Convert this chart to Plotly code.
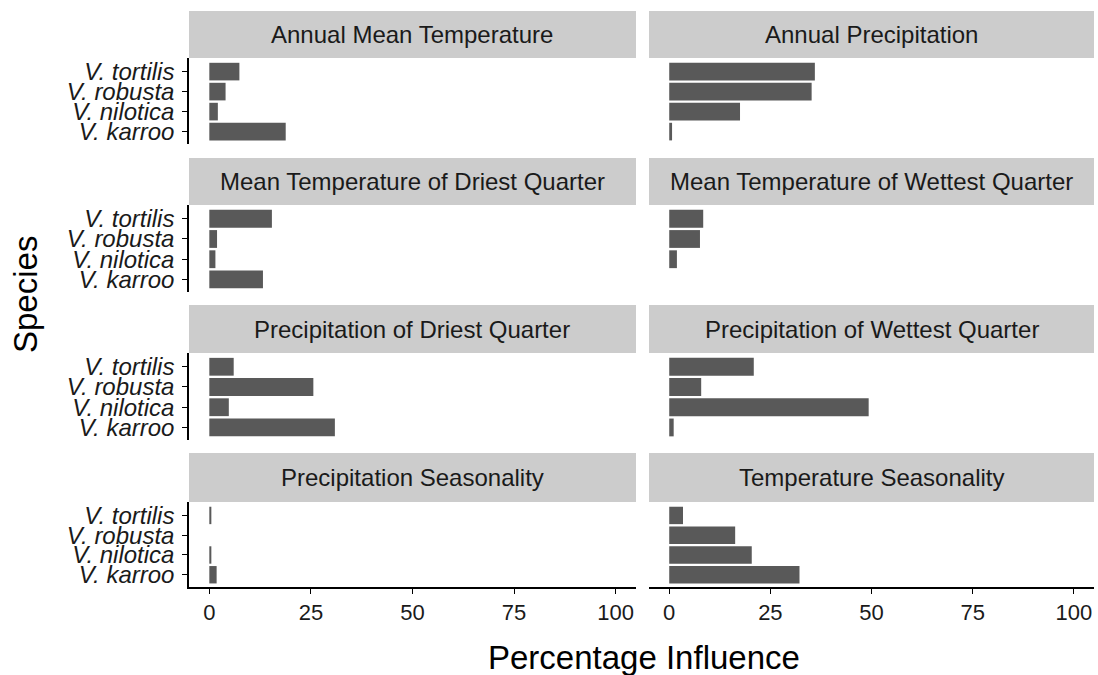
import plotly.graph_objects as go

W, H = 1098, 675

# ---- data ----
species = ["V. karroo", "V. nilotica", "V. robusta", "V. tortilis"]
variables = [
    "Annual Mean Temperature",
    "Annual Precipitation",
    "Mean Temperature of Driest Quarter",
    "Mean Temperature of Wettest Quarter",
    "Precipitation of Driest Quarter",
    "Precipitation of Wettest Quarter",
    "Precipitation Seasonality",
    "Temperature Seasonality",
]
# values in species order: karroo, nilotica, robusta, tortilis
annual_mean_temp = [18.8, 2.1, 4.0, 7.4]
annual_precip = [0.7, 17.5, 35.2, 36.0]
mean_temp_driest = [13.2, 1.5, 1.9, 15.4]
mean_temp_wettest = [0.0, 1.9, 7.6, 8.4]
precip_driest = [30.9, 4.8, 25.6, 6.0]
precip_wettest = [1.1, 49.3, 7.9, 20.9]
precip_seasonality = [1.8, 0.5, 0.0, 0.5]
temp_seasonality = [32.2, 20.4, 16.3, 3.4]
x_ticks = [0, 25, 50, 75, 100]

series = [annual_mean_temp, annual_precip, mean_temp_driest, mean_temp_wettest,
          precip_driest, precip_wettest, precip_seasonality, temp_seasonality]

# ---- layout geometry (pixels) ----
col_px = [(189, 636), (649, 1094)]
panel_px = [(58, 144), (205, 292), (353, 440), (502, 587)]
strip_px = [(11, 58), (158, 205), (305, 353), (453, 502)]

FONT = "Liberation Sans, Arial, sans-serif"
BAR = "#595959"
STRIP = "#CCCCCC"
TXT = "#1a1a1a"

fig = go.Figure()
layout = dict(
    width=W, height=H,
    margin=dict(l=0, r=0, t=0, b=0),
    paper_bgcolor="white", plot_bgcolor="white",
    showlegend=False,
    font=dict(family=FONT, color=TXT),
    bargap=0.1,
)
shapes = []
annotations = []

for i, (var, vals) in enumerate(zip(variables, series)):
    r, c = divmod(i, 2)
    n = i + 1
    xa = "x" if n == 1 else f"x{n}"
    ya = "y" if n == 1 else f"y{n}"
    fig.add_trace(go.Bar(
        x=vals, y=species, orientation="h",
        marker=dict(color=BAR, line=dict(width=0)),
        width=0.88,
        xaxis=xa, yaxis=ya, hoverinfo="x+y",
    ))
    x0, x1 = col_px[c]
    p0, p1 = panel_px[r]
    bottom = (r == 3)
    left = (c == 0)
    layout["xaxis" if n == 1 else f"xaxis{n}"] = dict(
        domain=[x0 / W, x1 / W], anchor=ya, range=[-5, 105],
        tickmode="array", tickvals=x_ticks, ticktext=[str(t) for t in x_ticks],
        showgrid=False, zeroline=False,
        showline=bottom, linecolor="black", linewidth=1.5,
        ticks="outside" if bottom else "", ticklen=5, tickwidth=1.3, tickcolor="black",
        showticklabels=bottom, tickfont=dict(size=22, color=TXT, family=FONT),
        fixedrange=True,
    )
    layout["yaxis" if n == 1 else f"yaxis{n}"] = dict(
        domain=[1 - p1 / H, 1 - p0 / H], anchor=xa,
        type="category", categoryorder="array", categoryarray=species,
        tickmode="array", tickvals=species, ticktext=species,
        range=[-0.62, 3.68],
        showgrid=False, zeroline=False,
        showline=left, linecolor="black", linewidth=1.5,
        ticks="outside" if left else "", ticklen=5, tickwidth=1.3, tickcolor="black",
        showticklabels=left,
        tickfont=dict(size=24, color=TXT, family=FONT, style="italic"),
        ticklabelstandoff=3,
        fixedrange=True,
    )
    s0, s1 = strip_px[r]
    shapes.append(dict(type="rect", xref="paper", yref="paper",
                       x0=x0 / W, x1=x1 / W, y0=1 - s1 / H, y1=1 - s0 / H,
                       fillcolor=STRIP, line=dict(width=0), layer="below"))
    annotations.append(dict(text=var, xref="paper", yref="paper",
                            x=(x0 + x1) / 2 / W, y=1 - (s0 + s1) / 2 / H,
                            xanchor="center", yanchor="middle", showarrow=False,
                            font=dict(size=24, color=TXT, family=FONT)))

annotations.append(dict(text="Percentage Influence", xref="paper", yref="paper",
                        x=644 / W, y=1 - 657 / H, xanchor="center", yanchor="middle",
                        showarrow=False, font=dict(size=33, color="black", family=FONT)))
annotations.append(dict(text="Species", xref="paper", yref="paper",
                        x=25 / W, y=1 - 295 / H, xanchor="center", yanchor="middle",
                        textangle=-90, showarrow=False,
                        font=dict(size=33, color="black", family=FONT)))

layout["shapes"] = shapes
layout["annotations"] = annotations
fig.update_layout(**layout)
fig.write_html("out.html")
